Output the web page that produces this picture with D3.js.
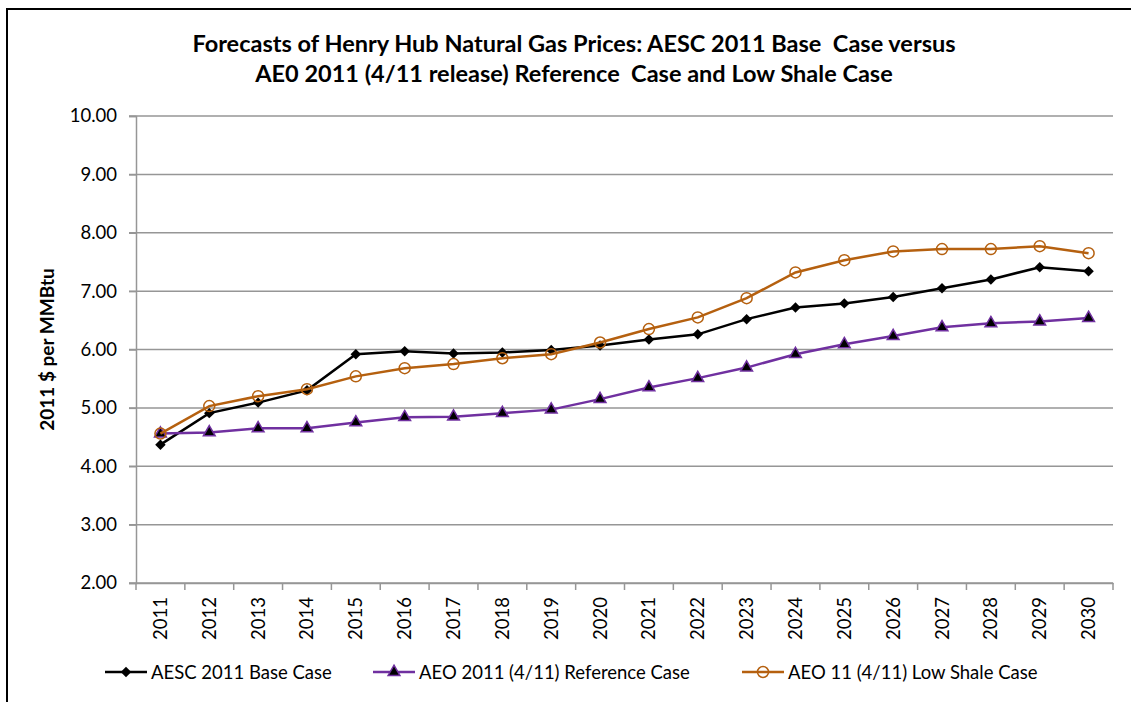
<!DOCTYPE html>
<html>
<head>
<meta charset="utf-8">
<script src="https://cdn.jsdelivr.net/npm/d3@7"></script>
<style>
  body { margin: 0; background: #fff; }
  svg { display: block; }
</style>
</head>
<body>
<div id="vis"></div>
<script>
const years = ['2011', '2012', '2013', '2014', '2015', '2016', '2017', '2018', '2019', '2020',
               '2021', '2022', '2023', '2024', '2025', '2026', '2027', '2028', '2029', '2030'];

const aescBase = [4.37, 4.91, 5.09, 5.30, 5.92, 5.97, 5.93, 5.95, 5.99, 6.07,
                  6.17, 6.26, 6.52, 6.72, 6.79, 6.90, 7.05, 7.20, 7.41, 7.34];

const aeoReference = [4.56, 4.58, 4.65, 4.65, 4.75, 4.84, 4.85, 4.91, 4.97, 5.15,
                      5.35, 5.51, 5.69, 5.92, 6.09, 6.23, 6.38, 6.45, 6.48, 6.54];

const aeoLowShale = [4.56, 5.03, 5.20, 5.32, 5.54, 5.68, 5.75, 5.85, 5.92, 6.12,
                     6.35, 6.55, 6.88, 7.32, 7.53, 7.68, 7.72, 7.72, 7.77, 7.65];

const yTicks = [2, 3, 4, 5, 6, 7, 8, 9, 10];

const seriesNames = ['AESC 2011 Base Case', 'AEO 2011 (4/11) Reference Case', 'AEO 11 (4/11) Low Shale Case'];

const width = 1131;
const height = 702;
const margin = { top: 116, right: 18, bottom: 119, left: 136 };
const font = 'Lato, "Open Sans", Arial, sans-serif';

const series = [
    { name: seriesNames[0], values: aescBase, color: '#000000', marker: 'diamond' },
    { name: seriesNames[1], values: aeoReference, color: '#7030a0', marker: 'triangle' },
    { name: seriesNames[2], values: aeoLowShale, color: '#b5600f', marker: 'circle' }
];

const x = d3.scaleBand()
    .domain(years)
    .range([margin.left, width - margin.right]);

const y = d3.scaleLinear()
    .domain([2, 10])
    .range([height - margin.bottom, margin.top]);

const svg = d3.select('#vis')
    .append('svg')
    .attr('width', width)
    .attr('height', height);

// outer chart frame (cut off at right / bottom in the original)
svg.append('rect')
    .attr('x', 7)
    .attr('y', 9)
    .attr('width', width + 20)
    .attr('height', height + 20)
    .attr('fill', 'none')
    .attr('stroke', '#000')
    .attr('stroke-width', 2);

// title
svg.append('text')
    .attr('x', 574)
    .attr('text-anchor', 'middle')
    .attr('font-family', font)
    .attr('font-weight', 'bold')
    .attr('font-size', '23.5px')
    .attr('fill', '#000')
    .selectAll('tspan')
    .data(['Forecasts of Henry Hub Natural Gas Prices: AESC 2011 Base  Case versus',
           'AE0 2011 (4/11 release) Reference  Case and Low Shale Case'])
    .join('tspan')
    .attr('x', 574)
    .attr('y', (d, i) => 52 + i * 30)
    .style('white-space', 'pre')
    .text(d => d);

// gridlines
svg.append('g')
    .selectAll('line')
    .data(yTicks)
    .join('line')
    .attr('x1', margin.left - 7)
    .attr('x2', width - margin.right)
    .attr('y1', d => y(d))
    .attr('y2', d => y(d))
    .attr('stroke', '#969696')
    .attr('stroke-width', 1.5);

// y axis
const yAxis = svg.append('g')
    .attr('transform', `translate(${margin.left}, 0)`)
    .call(d3.axisLeft(y).tickValues(yTicks).tickFormat(d3.format('.2f')).tickSize(7).tickPadding(12));
yAxis.select('.domain').attr('stroke', '#969696').attr('stroke-width', 1.5);
yAxis.selectAll('.tick line').attr('stroke', '#969696').attr('stroke-width', 1.5);
yAxis.selectAll('.tick text')
    .attr('font-family', font)
    .attr('font-size', '18.5px')
    .attr('fill', '#000');

svg.append('text')
    .attr('transform', `translate(54, ${(margin.top + height - margin.bottom) / 2}) rotate(-90)`)
    .attr('text-anchor', 'middle')
    .attr('font-family', font)
    .attr('font-weight', 'bold')
    .attr('font-size', '19px')
    .attr('fill', '#000')
    .text('2011 $ per MMBtu');

// x axis
const xAxis = svg.append('g')
    .attr('transform', `translate(0, ${height - margin.bottom})`)
    .call(d3.axisBottom(x).tickSize(0).tickPadding(0));
xAxis.select('.domain').attr('stroke', '#969696').attr('stroke-width', 1.5);
xAxis.selectAll('.tick text')
    .attr('font-family', font)
    .attr('font-size', '18.5px')
    .attr('fill', '#000')
    .attr('text-anchor', 'end')
    .attr('dy', '0.35em')
    .attr('transform', 'translate(0, 14) rotate(-90)');

xAxis.selectAll('.boundary')
    .data(years.concat(['end']))
    .join('line')
    .attr('class', 'boundary')
    .attr('x1', (d, i) => i < years.length ? x(d) : x.range()[1])
    .attr('x2', (d, i) => i < years.length ? x(d) : x.range()[1])
    .attr('y1', 0)
    .attr('y2', 7)
    .attr('stroke', '#969696')
    .attr('stroke-width', 1.5);

const cx = (d, i) => x(years[i]) + x.bandwidth() / 2;

const line = d3.line()
    .x(cx)
    .y(d => y(d));

const diamond = d3.symbol().type(d3.symbolDiamond2).size(70);
const triangle = d3.symbol().type(d3.symbolTriangle).size(60);

function drawMarker(sel, s) {
    if (s.marker === 'diamond') {
        sel.append('path').attr('d', diamond()).attr('fill', '#000');
    } else if (s.marker === 'triangle') {
        sel.append('path').attr('d', triangle()).attr('fill', '#000')
            .attr('stroke', s.color).attr('stroke-width', 1.5);
    } else {
        sel.append('circle').attr('r', 5.5).attr('fill', 'none')
            .attr('stroke', s.color).attr('stroke-width', 1.5);
    }
}

// lines and markers
series.forEach(s => {
    const g = svg.append('g');
    g.append('path')
        .datum(s.values)
        .attr('fill', 'none')
        .attr('stroke', s.color)
        .attr('stroke-width', 2.5)
        .attr('d', line);
    g.selectAll('g')
        .data(s.values)
        .join('g')
        .attr('transform', (d, i) => `translate(${cx(d, i)}, ${y(d)})`)
        .each(function () { drawMarker(d3.select(this), s); });
});

// legend
const legendX = [105, 373, 742];
const legend = svg.append('g')
    .attr('transform', 'translate(0, 672)');

series.forEach((s, i) => {
    const e = legend.append('g').attr('transform', `translate(${legendX[i]}, 0)`);
    e.append('line')
        .attr('x1', 0).attr('x2', 42)
        .attr('stroke', s.color)
        .attr('stroke-width', 2.5);
    drawMarker(e.append('g').attr('transform', 'translate(21, 0)'), s);
    e.append('text')
        .attr('x', 46)
        .attr('y', 6.5)
        .attr('font-family', font)
        .attr('font-size', '18.5px')
        .attr('fill', '#000')
        .text(s.name);
});
</script>
</body>
</html>
